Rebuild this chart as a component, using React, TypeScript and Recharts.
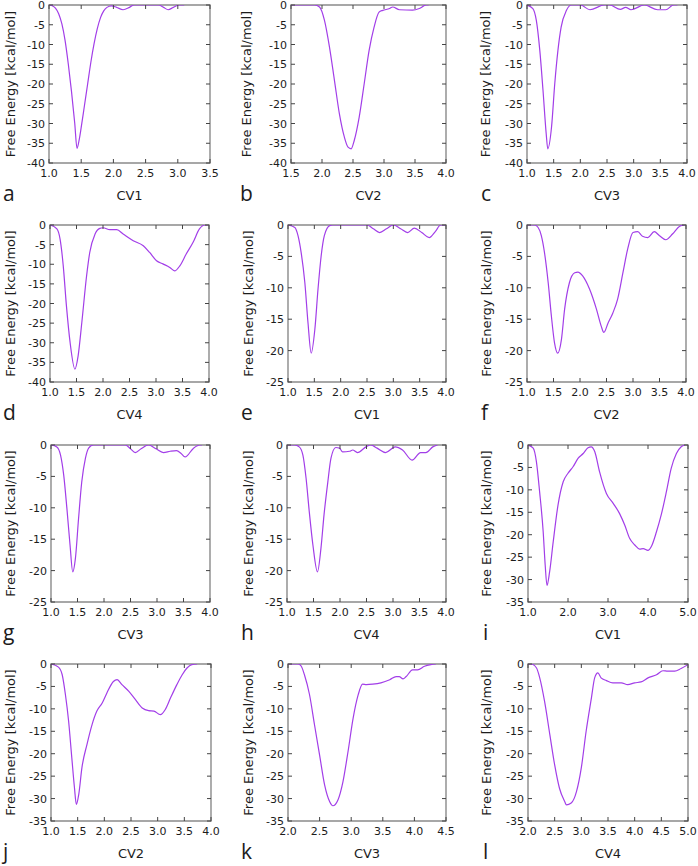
import { LineChart, Line, XAxis, YAxis, ReferenceArea } from 'recharts'

// free energy profiles, one pair of arrays per panel (x = CV value, y = kcal/mol)
const aX = [1.0, 1.05, 1.1, 1.15, 1.2, 1.25, 1.3, 1.35, 1.4, 1.435, 1.47, 1.5, 1.55, 1.6, 1.65, 1.7, 1.75, 1.8, 1.85, 1.9, 1.97, 2.05, 2.15, 2.25, 2.32, 2.7, 2.78, 2.85, 2.93, 3.02, 3.1]
const aY = [0, -0.2, -0.8, -2.2, -4.8, -9.0, -15, -22, -30, -36.3, -34, -31, -25.5, -20, -14.5, -9.8, -6, -3.2, -1.5, -0.6, -0.2, -0.6, -1.2, -0.6, 0, 0, -0.6, -1.2, -0.6, 0, 0]

const bX = [1.5, 1.88, 1.96, 2.04, 2.12, 2.2, 2.28, 2.36, 2.42, 2.47, 2.52, 2.6, 2.68, 2.76, 2.84, 2.92, 2.98, 3.09, 3.14, 3.25, 3.46, 3.57, 3.68, 3.72]
const bY = [0, 0, -0.5, -3.9, -10.6, -19, -27.5, -33.4, -36, -36.4, -34.3, -28.4, -20, -11.5, -5.6, -1.8, -1.35, -0.9, -0.5, -1.2, -1.3, -0.9, 0, 0]

const cX = [1.0, 1.11, 1.175, 1.24, 1.3, 1.36, 1.39, 1.46, 1.52, 1.58, 1.64, 1.74, 1.83, 2.0, 2.18, 2.45, 2.55, 2.75, 2.85, 2.95, 3.2, 3.45, 3.6, 3.75, 3.82]
const cY = [0, -0.9, -3.9, -11.5, -21.6, -32.6, -36.4, -30.9, -20, -11.5, -5.6, -1.35, 0, 0, -1.2, 0, 0, -1.1, -0.6, -1.2, 0, -1.2, -1.2, 0, 0]

const dX = [1.0, 1.13, 1.19, 1.25, 1.31, 1.38, 1.47, 1.53, 1.6, 1.69, 1.75, 1.85, 1.94, 2.0, 2.13, 2.26, 2.38, 2.57, 2.76, 2.88, 3.01, 3.13, 3.26, 3.35, 3.45, 3.57, 3.7, 3.82, 3.92, 3.97]
const dY = [0, -1, -3.6, -10.4, -20.6, -30, -36.7, -33.4, -24.9, -13, -7, -2.3, -0.85, -0.7, -1.2, -1.2, -2.3, -4, -5.3, -7, -9.1, -9.9, -10.8, -11.7, -10.4, -7.4, -4.4, -1, 0, 0]

const eX = [1.0, 1.13, 1.19, 1.25, 1.32, 1.38, 1.44, 1.51, 1.57, 1.63, 1.69, 1.79, 1.85, 2.5, 2.62, 2.74, 2.87, 3.0, 3.14, 3.27, 3.4, 3.54, 3.68, 3.8, 3.9, 4.0]
const eY = [0, -0.4, -1.7, -4.4, -9.2, -15.6, -20.4, -16.6, -10.2, -4.9, -1.7, -0.1, 0, 0, -0.6, -1.2, -0.6, 0, -0.6, -1.2, -0.5, -1.2, -2.0, -1.0, 0, 0]

const fX = [1.0, 1.14, 1.21, 1.27, 1.33, 1.4, 1.46, 1.52, 1.58, 1.65, 1.71, 1.8, 1.9, 1.96, 2.05, 2.18, 2.31, 2.4, 2.45, 2.53, 2.62, 2.71, 2.81, 2.9, 3.0, 3.09, 3.18, 3.28, 3.4, 3.5, 3.62, 3.75, 3.88, 3.97]
const fY = [0, 0, -0.4, -1.7, -4.4, -9.2, -14.5, -18.8, -20.4, -18.2, -13.4, -9.2, -7.6, -7.5, -8.1, -10.2, -13.4, -16.1, -17.1, -15.6, -14, -11.8, -7.6, -3.8, -1.2, -1.07, -1.8, -2, -1.07, -1.7, -2.35, -1.4, -0.2, 0]

const gX = [1.0, 1.11, 1.18, 1.24, 1.3, 1.36, 1.41, 1.46, 1.52, 1.58, 1.65, 1.71, 1.8, 2.4, 2.5, 2.59, 2.7, 2.84, 2.98, 3.12, 3.25, 3.37, 3.45, 3.53, 3.69, 3.81, 3.85]
const gY = [0, -0.3, -1.6, -4.8, -10.1, -16, -20.2, -18.1, -11.7, -5.9, -2.1, -0.5, 0, 0, -0.6, -1.2, -0.6, 0, -0.6, -1.2, -1.0, -0.9, -1.3, -1.9, -0.5, 0, 0]

const hX = [1.0, 1.14, 1.23, 1.3, 1.36, 1.42, 1.49, 1.575, 1.64, 1.7, 1.77, 1.83, 1.92, 1.99, 2.05, 2.18, 2.24, 2.33, 2.49, 2.58, 2.7, 2.86, 3.04, 3.18, 3.36, 3.52, 3.62, 3.75, 3.84]
const hY = [0, 0, -0.3, -1.6, -5.3, -10.6, -16, -20.2, -16.5, -11, -5.9, -2.1, -0.4, -0.5, -1.1, -1.0, -0.8, -1.2, -0.3, 0, -0.5, -1.2, -0.3, -0.8, -2.4, -1.2, -1.2, -0.3, 0]

const iX = [1.0, 1.13, 1.21, 1.29, 1.38, 1.43, 1.475, 1.54, 1.63, 1.75, 1.88, 2.0, 2.13, 2.25, 2.38, 2.5, 2.58, 2.67, 2.79, 2.96, 3.13, 3.29, 3.42, 3.54, 3.67, 3.79, 3.88, 4.0, 4.08, 4.21, 4.33, 4.46, 4.58, 4.71, 4.83, 4.92]
const iY = [0, -0.7, -3.7, -10.4, -19.4, -26.8, -31.3, -28.3, -21.6, -13.4, -8.2, -6.3, -4.8, -3, -1.9, -0.6, -0.4, -1.5, -6, -10.8, -13, -15.3, -17.9, -20.8, -22.3, -23.2, -23.1, -23.5, -22.7, -19.4, -15.6, -10.4, -5.2, -1.9, -0.4, 0]

const jX = [1.0, 1.14, 1.21, 1.27, 1.33, 1.39, 1.44, 1.475, 1.52, 1.58, 1.675, 1.77, 1.86, 1.96, 2.05, 2.17, 2.24, 2.33, 2.46, 2.58, 2.71, 2.83, 2.93, 3.05, 3.14, 3.24, 3.36, 3.46, 3.55, 3.64, 3.74]
const jY = [0, -0.7, -2.4, -6.8, -12.7, -20.9, -27.6, -31.3, -29.1, -23.1, -17.9, -13.5, -10.5, -8.7, -6.4, -3.9, -3.5, -4.6, -6.1, -7.9, -9.8, -10.4, -10.5, -11.3, -10.2, -7.6, -4.6, -2.4, -0.9, -0.15, 0]

const kX = [2.0, 2.16, 2.21, 2.26, 2.34, 2.42, 2.5, 2.58, 2.66, 2.71, 2.79, 2.87, 2.95, 3.03, 3.11, 3.18, 3.24, 3.34, 3.47, 3.61, 3.71, 3.76, 3.82, 3.87, 3.97, 4.05, 4.16, 4.26, 4.34]
const kY = [0, 0, -0.5, -2.4, -6.8, -13.6, -20.3, -27, -30.7, -31.6, -30.3, -26.2, -19.5, -12.1, -6.9, -4.5, -4.6, -4.5, -4.2, -3.5, -2.8, -2.8, -3.3, -2.8, -1.3, -1.3, -0.5, -0.15, 0]

const lX = [2.0, 2.06, 2.16, 2.22, 2.31, 2.41, 2.5, 2.59, 2.69, 2.72, 2.81, 2.91, 3.0, 3.09, 3.19, 3.25, 3.31, 3.37, 3.47, 3.59, 3.75, 3.87, 4.0, 4.12, 4.25, 4.41, 4.53, 4.62, 4.75, 4.87, 5.0]
const lY = [0, 0, -0.9, -3.1, -8.3, -15.8, -22.5, -27.7, -30.7, -31.4, -31, -28.4, -23.1, -15, -7.5, -3.1, -2.0, -3.1, -3.7, -4.2, -4.2, -4.6, -4.2, -4.0, -3.1, -2.4, -1.5, -1.6, -1.6, -1.0, -0.15]

// tick labels
const xTicks1to35 = [1, 1.5, 2, 2.5, 3, 3.5]
const xTicks15to4 = [1.5, 2, 2.5, 3, 3.5, 4]
const xTicks1to4 = [1, 1.5, 2, 2.5, 3, 3.5, 4]
const xTicks1to5 = [1, 2, 3, 4, 5]
const xTicks2to45 = [2, 2.5, 3, 3.5, 4, 4.5]
const xTicks2to5 = [2, 2.5, 3, 3.5, 4, 4.5, 5]
const yTicks40 = [-40, -35, -30, -25, -20, -15, -10, -5, 0]
const yTicks25 = [-25, -20, -15, -10, -5, 0]
const yTicks35 = [-35, -30, -25, -20, -15, -10, -5, 0]

const PURPLE = '#a23ee8'
const FRAME = '#8a8a8a'
const TICK = '#444'
const TEXT = '#1c1c1c'
const FONT = 'DejaVu Sans, Verdana, sans-serif'

// box = [left, top, right, bottom] of the plot frame in page pixels
const panels = [
  { letter: 'a', cv: 'CV1', xs: aX, ys: aY, xTicks: xTicks1to35, yTicks: yTicks40, box: [49, 5, 210, 163], titleX: 10, letterX: 3 },
  { letter: 'b', cv: 'CV2', xs: bX, ys: bY, xTicks: xTicks15to4, yTicks: yTicks40, box: [291, 5, 446, 163], titleX: 246, letterX: 240 },
  { letter: 'c', cv: 'CV3', xs: cX, ys: cY, xTicks: xTicks1to4, yTicks: yTicks40, box: [527, 5, 687, 163], titleX: 485, letterX: 481 },
  { letter: 'd', cv: 'CV4', xs: dX, ys: dY, xTicks: xTicks1to4, yTicks: yTicks40, box: [50, 225, 209, 382], titleX: 10, letterX: 3 },
  { letter: 'e', cv: 'CV1', xs: eX, ys: eY, xTicks: xTicks1to4, yTicks: yTicks25, box: [288, 225, 446, 382], titleX: 248, letterX: 241 },
  { letter: 'f', cv: 'CV2', xs: fX, ys: fY, xTicks: xTicks1to4, yTicks: yTicks25, box: [527, 225, 686, 382], titleX: 486, letterX: 481 },
  { letter: 'g', cv: 'CV3', xs: gX, ys: gY, xTicks: xTicks1to4, yTicks: yTicks25, box: [51, 445, 210, 602], titleX: 10, letterX: 3 },
  { letter: 'h', cv: 'CV4', xs: hX, ys: hY, xTicks: xTicks1to4, yTicks: yTicks25, box: [287, 445, 446, 602], titleX: 248, letterX: 241 },
  { letter: 'i', cv: 'CV1', xs: iX, ys: iY, xTicks: xTicks1to5, yTicks: yTicks35, box: [528, 445, 688, 602], titleX: 486, letterX: 483 },
  { letter: 'j', cv: 'CV2', xs: jX, ys: jY, xTicks: xTicks1to4, yTicks: yTicks35, box: [51, 664, 211, 821], titleX: 10, letterX: 3 },
  { letter: 'k', cv: 'CV3', xs: kX, ys: kY, xTicks: xTicks2to45, yTicks: yTicks35, box: [288, 664, 446, 821], titleX: 248, letterX: 241 },
  { letter: 'l', cv: 'CV4', xs: lX, ys: lY, xTicks: xTicks2to5, yTicks: yTicks35, box: [528, 664, 688, 821], titleX: 486, letterX: 483 },
]

const PAD_L = 46
const PAD_T = 6
const PAD_R = 14
const PAD_B = 24
const TICK_LEN = 4

// bottom axis tick: label plus inward marks on bottom and top edges
function XTick(props: any) {
  const { x, y, payload, boxH } = props
  return (
    <g>
      <line x1={x} x2={x} y1={y} y2={y - TICK_LEN} stroke={TICK} />
      <line x1={x} x2={x} y1={y - boxH} y2={y - boxH + TICK_LEN} stroke={TICK} />
      <text x={x} y={y + 14} textAnchor="middle" fontSize={11} fill={TEXT} fontFamily={FONT}>
        {Number(payload.value).toFixed(1)}
      </text>
    </g>
  )
}

// left axis tick: label plus inward marks on left and right edges
function YTick(props: any) {
  const { x, y, payload, boxW } = props
  return (
    <g>
      <line x1={x} x2={x + TICK_LEN} y1={y} y2={y} stroke={TICK} />
      <line x1={x + boxW} x2={x + boxW - TICK_LEN} y1={y} y2={y} stroke={TICK} />
      <text x={x - 4} y={y} dy={4} textAnchor="end" fontSize={11} fill={TEXT} fontFamily={FONT}>
        {payload.value}
      </text>
    </g>
  )
}

function Panel({ p }: { p: (typeof panels)[number] }) {
  const data = p.xs.map((x, i) => ({ x, y: p.ys[i] }))
  const [l, t, r, b] = p.box
  const boxW = r - l
  const boxH = b - t
  const x0 = p.xTicks[0]
  const x1 = p.xTicks[p.xTicks.length - 1]
  const y0 = p.yTicks[0]
  const y1 = p.yTicks[p.yTicks.length - 1]
  return (
    <div style={{ position: 'absolute', left: l - PAD_L, top: t - PAD_T }}>
      <LineChart
        width={boxW + PAD_L + PAD_R}
        height={boxH + PAD_T + PAD_B}
        data={data}
        margin={{ top: PAD_T, right: PAD_R, left: 0, bottom: 0 }}
      >
        <XAxis
          type="number"
          dataKey="x"
          domain={[x0, x1]}
          ticks={p.xTicks}
          interval={0}
          allowDataOverflow
          height={PAD_B}
          tickSize={0}
          tickMargin={0}
          axisLine={false}
          tickLine={false}
          tick={<XTick boxH={boxH} />}
        />
        <YAxis
          type="number"
          domain={[y0, y1]}
          ticks={p.yTicks}
          interval={0}
          allowDataOverflow
          width={PAD_L}
          tickSize={0}
          tickMargin={0}
          axisLine={false}
          tickLine={false}
          tick={<YTick boxW={boxW} />}
        />
        <ReferenceArea x1={x0} x2={x1} y1={y0} y2={y1} fill="none" stroke={FRAME} strokeWidth={1.4} ifOverflow="visible" />
        <Line
          type="monotone"
          dataKey="y"
          stroke={PURPLE}
          strokeWidth={1.2}
          dot={false}
          isAnimationActive={false}
        />
      </LineChart>
    </div>
  )
}

export default function App() {
  return (
    <div style={{ position: 'absolute', left: 0, top: 0, width: 698, height: 866, background: '#fff' }}>
      {panels.map((p) => (
        <Panel key={p.letter} p={p} />
      ))}
      <svg width={698} height={866} style={{ position: 'absolute', left: 0, top: 0, pointerEvents: 'none' }}>
        {panels.map((p) => {
          const [l, t, r, b] = p.box
          const cy = (t + b) / 2
          const base = b + 37
          return (
            <g key={p.letter} fill={TEXT}>
              <text
                x={p.titleX}
                y={cy}
                transform={`rotate(-90, ${p.titleX}, ${cy})`}
                textAnchor="middle"
                dominantBaseline="central"
                fontSize={13}
                fontFamily={FONT}
              >
                Free Energy [kcal/mol]
              </text>
              <text x={(l + r) / 2} y={base} textAnchor="middle" fontSize={13} fontFamily={FONT}>
                {p.cv}
              </text>
              <text x={p.letterX} y={base + 1} fontSize={21} fontFamily="Open Sans, sans-serif">
                {p.letter}
              </text>
            </g>
          )
        })}
      </svg>
    </div>
  )
}
